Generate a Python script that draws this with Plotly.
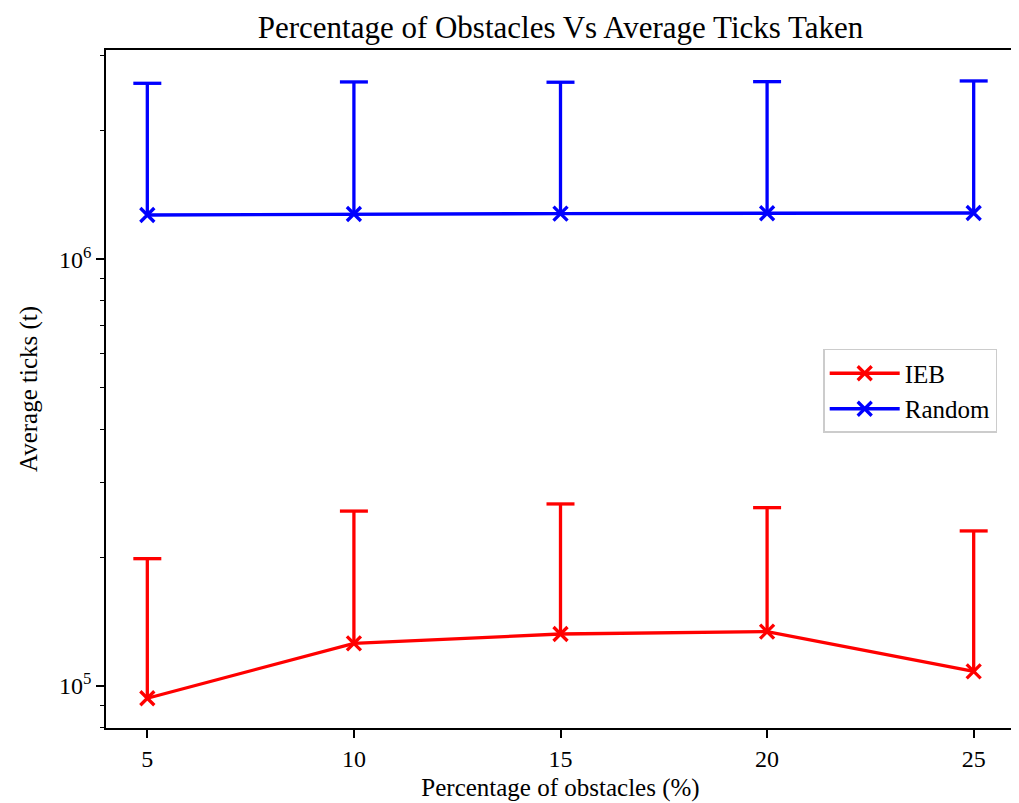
import plotly.graph_objects as go

obstacles = [5, 10, 15, 20, 25]
ieb_mean = [93600, 125900, 132400, 134100, 108200]
ieb_err = [105200, 131100, 134700, 127700, 122700]
random_mean = [1270000, 1277000, 1280000, 1282000, 1284000]
random_err = [1315000, 1327000, 1320000, 1326000, 1334000]

y_major = [1e5, 1e6]
y_major_text = ["10<sup>5</sup>", "10<sup>6</sup>"]
y_minor = [8e4, 9e4, 2e5, 3e5, 4e5, 5e5, 6e5, 7e5, 8e5, 9e5, 2e6, 3e6]

FONT = "Liberation Serif"
LW = 3.3

fig = go.Figure()


def add_series(name, means, errs, color):
    tops = [m + e for m, e in zip(means, errs)]
    sx, sy = [], []
    for x, m, t in zip(obstacles, means, tops):
        sx += [x, x, None]
        sy += [m, t, None]
    fig.add_trace(go.Scatter(
        x=obstacles, y=means, name=name, mode="lines+markers",
        line=dict(color=color, width=LW),
        marker=dict(symbol="x-thin", size=14, color=color,
                    line=dict(color=color, width=LW)),
        legendgroup=name,
    ))
    fig.add_trace(go.Scatter(
        x=sx, y=sy, mode="lines", line=dict(color=color, width=LW),
        showlegend=False, legendgroup=name, hoverinfo="skip",
    ))
    fig.add_trace(go.Scatter(
        x=obstacles, y=tops, mode="markers",
        marker=dict(symbol="line-ew", size=20, color=color,
                    line=dict(color=color, width=LW)),
        showlegend=False, legendgroup=name, hoverinfo="skip",
    ))


add_series("IEB", ieb_mean, ieb_err, "#ff0000")
add_series("Random", random_mean, random_err, "#0000ff")

# page has an 8px body margin, so the figure is offset by 8px
fig.update_layout(
    width=1011, height=795,
    margin=dict(l=98, r=2, t=42, b=75),
    paper_bgcolor="white", plot_bgcolor="white",
    font=dict(family=FONT, size=24, color="black"),
    title=dict(text="Percentage of Obstacles Vs Average Ticks Taken",
               x=0.5, xref="paper", xanchor="center",
               y=1 - 19 / 795, yref="container", yanchor="middle",
               font=dict(family=FONT, size=31, color="black")),
    legend=dict(x=0.789, y=0.559, xanchor="left", yanchor="top",
                bgcolor="rgba(255,255,255,0.8)", bordercolor="#cccccc",
                borderwidth=1.5, font=dict(family=FONT, size=25),
                tracegroupgap=0, itemwidth=70),
    showlegend=True,
)

fig.update_xaxes(
    range=[4, 26], tickvals=obstacles, ticktext=[str(v) for v in obstacles],
    showgrid=False, zeroline=False, showline=True, mirror=True,
    linecolor="black", linewidth=1.8,
    ticks="outside", ticklen=8, tickwidth=1.8, tickcolor="black",
    tickfont=dict(family=FONT, size=24),
    title=dict(text="Percentage of obstacles (%)", standoff=8,
               font=dict(family=FONT, size=25)),
)

fig.update_yaxes(
    type="log", range=[4.9016, 6.4905],
    tickvals=y_major, ticktext=y_major_text,
    showgrid=False, zeroline=False, showline=True, mirror=True,
    linecolor="black", linewidth=1.8,
    ticks="outside", ticklen=8, tickwidth=1.8, tickcolor="black",
    tickfont=dict(family=FONT, size=24),
    minor=dict(tickvals=y_minor, ticks="outside", ticklen=4.5,
               tickwidth=1.4, tickcolor="black", showgrid=False),
    title=dict(text="Average ticks (t)", standoff=14,
               font=dict(family=FONT, size=25)),
)

fig.write_html("out.html")
